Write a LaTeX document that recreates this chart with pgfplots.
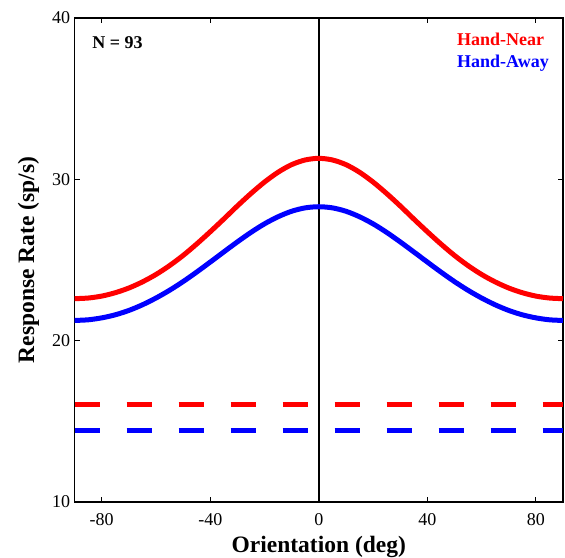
\documentclass[border=0pt]{standalone}
\usepackage{fontspec}
\setmainfont{Liberation Serif}
\usepackage{pgfplots}
\pgfplotsset{compat=1.18}
\definecolor{cred}{RGB}{255,0,0}
\definecolor{cblue}{RGB}{0,0,255}
\begin{document}
\begin{tikzpicture}
\begin{axis}[
  width=488.5bp, height=484bp, scale only axis=true,
  xmin=-90, xmax=90, ymin=10, ymax=40,
  xtick={-80,-40,0,40,80}, ytick={10,20,30,40},
  tick align=inside, major tick length=5bp,
  axis line style={line width=1.6bp}, tick style={line width=1.2bp, black},
  /pgf/number format/assume math mode=true,
  ticklabel style={font=\fontsize{18bp}{20bp}\selectfont},
  xticklabel style={yshift=-8bp},
  yticklabel style={xshift=-1bp},
  xlabel={\textbf{Orientation (deg)}},
  ylabel={\textbf{Response Rate (sp/s)}},
  label style={font=\fontsize{23.5bp}{25bp}\selectfont},
  xlabel style={at={(rel axis cs:0.5,0)}, anchor=north, yshift=-31bp},
  ylabel style={at={(rel axis cs:0,0.5)}, anchor=south, yshift=32bp},
  clip=false,
]
\coordinate (ll) at (rel axis cs:0,0);
\coordinate (ur) at (rel axis cs:1,1);
\addplot[black, line width=1.6bp] coordinates {(0,10) (0,40)};
\addplot[cred, line width=5bp, dash pattern=on 25.5bp off 26.5bp] coordinates {(-90,16.05) (90,16.05)};
\addplot[cblue, line width=5bp, dash pattern=on 25.5bp off 26.5bp] coordinates {(-90,14.45) (90,14.45)};
\addplot[cred, line width=5bp, smooth] coordinates {
(-90,22.60) (-85,22.64) (-80,22.76) (-75,22.97) (-70,23.26) (-65,23.64) (-60,24.10) (-55,24.65) (-50,25.28) (-45,25.99) (-40,26.75) (-35,27.54) (-30,28.35) (-25,29.12) (-20,29.83) (-15,30.44) (-10,30.91) (-5,31.20) (0,31.30)
(5,31.20) (10,30.91) (15,30.44) (20,29.83) (25,29.12) (30,28.35) (35,27.54) (40,26.75) (45,25.99) (50,25.28) (55,24.65) (60,24.10) (65,23.64) (70,23.26) (75,22.97) (80,22.76) (85,22.64) (90,22.60)};
\addplot[cblue, line width=5bp, smooth] coordinates {
(-90,21.25) (-85,21.29) (-80,21.41) (-75,21.60) (-70,21.87) (-65,22.22) (-60,22.64) (-55,23.12) (-50,23.66) (-45,24.25) (-40,24.87) (-35,25.50) (-30,26.12) (-25,26.71) (-20,27.24) (-15,27.68) (-10,28.02) (-5,28.23) (0,28.30)
(5,28.23) (10,28.02) (15,27.68) (20,27.24) (25,26.71) (30,26.12) (35,25.50) (40,24.87) (45,24.25) (50,23.66) (55,23.12) (60,22.64) (65,22.22) (70,21.87) (75,21.60) (80,21.41) (85,21.29) (90,21.25)};
\node[anchor=west, font=\fontsize{18bp}{20bp}\selectfont\bfseries, inner sep=0pt] at (rel axis cs:0.036,0.950) {N = 93};
\node[anchor=west, font=\fontsize{18bp}{20bp}\selectfont\bfseries, text=cred, inner sep=0pt] at (rel axis cs:0.783,0.955) {Hand-Near};
\node[anchor=west, font=\fontsize{18bp}{20bp}\selectfont\bfseries, text=cblue, inner sep=0pt] at (rel axis cs:0.783,0.907) {Hand-Away};
\end{axis}
\pgfresetboundingbox
\path ([shift={(-74.6bp,-56bp)}]ll) rectangle ([shift={(2bp,18bp)}]ur);
\end{tikzpicture}
\end{document}
